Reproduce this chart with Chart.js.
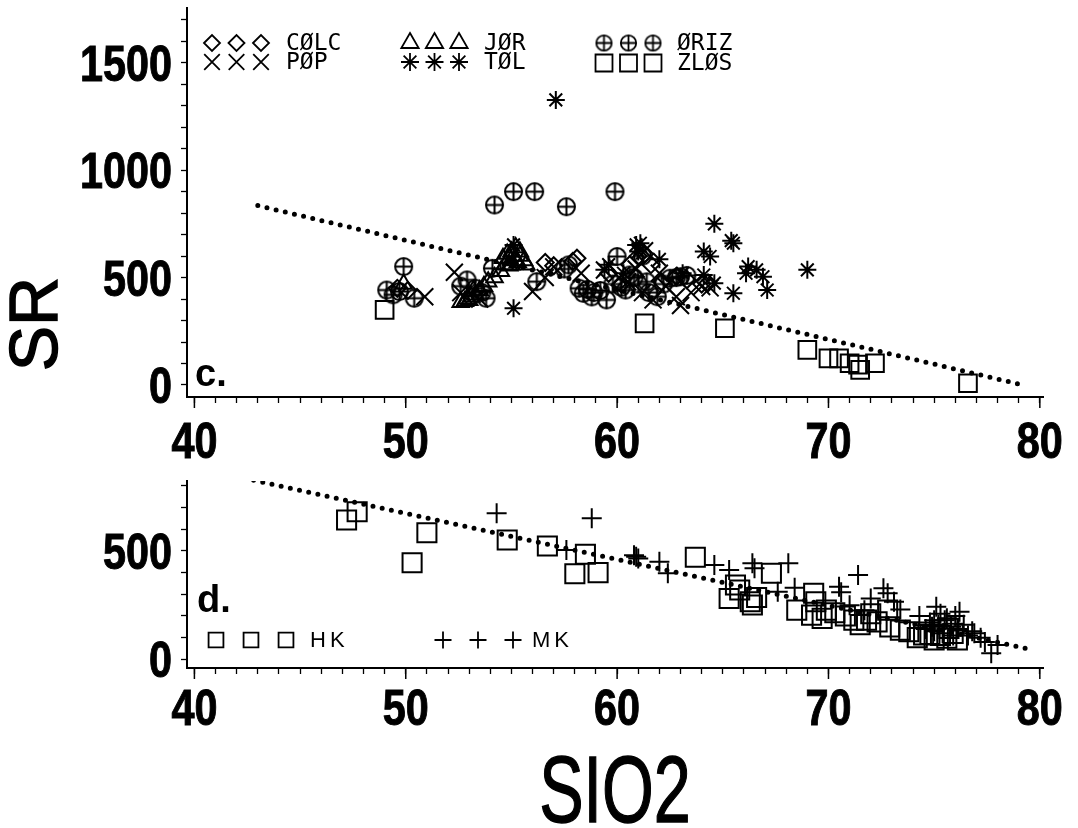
<!DOCTYPE html>
<html>
<head>
<meta charset="utf-8">
<script src="https://cdn.jsdelivr.net/npm/chart.js@4"></script>
<style>
  body { margin: 0; background: #fff; }
  #wrap { position: relative; width: 1078px; height: 828px; overflow: hidden; }
  canvas { position: absolute; left: 0; }
  #topChart { top: 0; }
  #botChart { top: 470px; }
  .big { position: absolute; color: #000; text-align: center; white-space: nowrap; -webkit-text-stroke: 1.4px #000; }
  #srLabel {
    left: -66px; top: 284px; width: 200px; height: 80px; line-height: 80px;
    font: 68px "Liberation Sans", Arial, sans-serif;
    transform: rotate(-90deg);
  }
  #sioLabel {
    left: 465px; top: 735px; width: 300px; height: 100px; line-height: 100px;
    font: 95px "Liberation Sans", Arial, sans-serif;
    transform: scaleX(0.7);
  }
</style>
</head>
<body>
<div id="wrap">
  <canvas id="topChart" width="1078" height="470"></canvas>
  <canvas id="botChart" width="1078" height="270"></canvas>
  <div class="big" id="srLabel">SR</div>
  <div class="big" id="sioLabel">SIO2</div>
</div>
<script>
// ---- panel c. (upper) ----
const colcSio2 = [49.6, 50.1, 56.6, 57.0, 57.9, 58.1, 59.6, 60.2, 60.6, 61.0, 61.3, 61.6, 62.1, 62.8, 63.3, 64.0, 64.3];
const colcSr = [450, 440, 570, 555, 575, 590, 520, 470, 560, 600, 610, 560, 480, 505, 490, 470, 475];

const jorSio2 = [49.9, 52.6, 52.8, 53.0, 52.9, 53.2, 53.1, 53.3, 53.5, 53.7, 53.9, 54.2, 54.5, 54.6, 54.7, 54.8, 54.9, 54.9, 55.0, 55.0, 55.1, 55.2, 55.2, 55.3, 55.4, 55.4, 55.6, 55.7];
const jorSr = [470, 385, 390, 395, 400, 440, 410, 420, 440, 460, 480, 500, 530, 590, 560, 610, 590, 555, 620, 560, 600, 640, 580, 570, 600, 620, 580, 560];

const orizSio2 = [49.1, 49.4, 49.7, 49.9, 50.4, 52.6, 52.9, 53.3, 53.6, 53.8, 54.1, 54.2, 55.1, 56.1, 56.2, 57.5, 57.6, 57.7, 58.2, 58.4, 58.6, 58.8, 58.9, 59.2, 59.5, 59.8, 59.9, 60.0, 60.2, 60.4, 60.6, 60.8, 61.0, 61.2, 61.4, 61.5, 61.9, 62.2, 62.5, 62.8, 63.0, 63.3];
const orizSr = [442, 420, 435, 551, 404, 460, 489, 450, 430, 404, 543, 838, 900, 900, 481, 540, 830, 559, 450, 427, 445, 410, 430, 440, 396, 470, 900, 598, 455, 442, 512, 500, 470, 600, 480, 430, 411, 470, 497, 500, 504, 510];

const popSio2 = [50.9, 52.3, 52.6, 53.5, 56.0, 56.6, 57.0, 58.3, 59.4, 60.1, 60.5, 60.9, 61.2, 61.3, 61.7, 62.0, 62.3, 62.8, 63.0, 63.5, 64.0, 64.4];
const popSr = [411, 525, 430, 400, 435, 500, 550, 520, 535, 500, 480, 540, 430, 625, 396, 520, 460, 411, 370, 430, 458, 452];

const tolSio2 = [55.1, 55.1, 57.1, 59.4, 59.6, 60.3, 60.9, 61.1, 61.0, 62.0, 63.1, 64.1, 64.4, 64.6, 64.1, 64.6, 65.4, 65.5, 65.5, 66.1, 66.2, 66.6, 66.9, 67.1, 69.0];
const tolSr = [652, 357, 1327, 536, 560, 520, 652, 660, 621, 585, 520, 621, 598, 750, 512, 474, 672, 660, 427, 520, 551, 536, 504, 442, 536];

const zlosSio2 = [49.0, 61.3, 65.1, 69.0, 70.0, 70.5, 71.0, 71.4, 71.5, 72.2, 76.6];
const zlosSr = [350, 287, 264, 163, 124, 124, 101, 95, 70, 101, 8];

const fitTopSio2 = [43.0, 79.2];
const fitTopSr = [835, 0];

// ---- panel d. (lower) ----
const hkSio2 = [47.2, 47.7, 50.3, 51.0, 54.8, 56.7, 58.0, 58.5, 59.1, 63.7, 65.3, 65.6, 65.8, 66.3, 66.4, 66.6, 67.3, 68.5, 69.2, 69.3, 69.4, 69.7, 69.9, 70.3, 70.8, 71.2, 71.5, 71.8, 72.0, 72.3, 72.8, 72.9, 73.4, 73.8, 74.2, 74.5, 74.8, 75.0, 75.3, 75.6, 75.7, 75.9, 76.1];
const hkSr = [643, 681, 446, 584, 551, 523, 395, 485, 400, 471, 281, 343, 320, 266, 251, 285, 397, 227, 204, 305, 266, 189, 227, 215, 200, 181, 160, 181, 210, 173, 227, 150, 135, 127, 100, 112, 115, 89, 110, 97, 143, 120, 89];

const mkSio2 = [54.3, 57.6, 58.8, 60.8, 60.9, 61.0, 62.0, 62.4, 64.6, 65.3, 66.4, 66.5, 67.6, 68.1, 68.4, 70.5, 70.6, 71.0, 71.4, 71.7, 72.0, 72.6, 72.8, 73.1, 73.4, 74.3, 74.6, 74.8, 74.9, 75.0, 75.0, 75.1, 75.2, 75.3, 75.4, 75.5, 75.6, 75.8, 75.9, 76.0, 76.1, 76.2, 76.4, 76.6, 76.8, 76.9, 77.2, 77.4, 77.7, 78.0];
const mkSr = [674, 504, 651, 480, 473, 465, 450, 397, 435, 412, 443, 420, 312, 443, 330, 335, 310, 250, 389, 227, 281, 328, 305, 266, 230, 200, 140, 170, 150, 130, 180, 243, 160, 210, 120, 180, 190, 150, 110, 200, 140, 220, 160, 110, 130, 120, 100, 80, 28, 66];

const fitBotSio2 = [42.8, 79.7];
const fitBotSr = [827, 43];

const xTickLabels = [40, 50, 60, 70, 80];
const yTopTickLabels = [0, 500, 1000, 1500];
const yBotTickLabels = [0, 500];

const tickFontStr = 'bold 50px "Liberation Sans", Arial, sans-serif';
const digitW = 23; // squeeze the digits, the original type is condensed

function pts(xs, ys) {
  return xs.map((x, i) => ({ x: x, y: ys[i] }));
}

// crossed circle marker (no builtin for it)
function crossCircle(d, lw) {
  const c = document.createElement("canvas");
  c.width = d;
  c.height = d;
  const g = c.getContext("2d");
  const r = d / 2 - lw;
  g.strokeStyle = "#000";
  g.lineWidth = lw;
  g.beginPath();
  g.arc(d / 2, d / 2, r, 0, Math.PI * 2);
  g.moveTo(d / 2 - r, d / 2);
  g.lineTo(d / 2 + r, d / 2);
  g.moveTo(d / 2, d / 2 - r);
  g.lineTo(d / 2, d / 2 + r);
  g.stroke();
  return c;
}
const orizMark = crossCircle(21, 2);
const orizLegendMark = crossCircle(19, 1.8);

function markSet(label, data, style, radius) {
  return {
    label: label,
    data: data,
    pointStyle: style,
    pointRadius: radius,
    pointBorderWidth: 2,
    pointBorderColor: "#000",
    pointBackgroundColor: "rgba(0,0,0,0)",
    showLine: false,
  };
}

function fitSet(data) {
  return {
    type: "line",
    data: data,
    borderColor: "#000",
    borderWidth: 5,
    borderDash: [0, 9.4],
    borderCapStyle: "round",
    pointRadius: 0,
    showLine: true,
    fill: false,
  };
}

// legend drawn with the library's own point renderer
function legendPlugin(id, items, fontStr, spacing) {
  return {
    id: id,
    afterDatasetsDraw(chart) {
      const ctx = chart.ctx;
      const area = chart.chartArea;
      ctx.save();
      ctx.strokeStyle = "#000";
      items.forEach((it) => {
        const y = area.top + it.dy;
        for (let k = 0; k < 3; k++) {
          const x = area.left + it.dx + k * it.step;
          ctx.fillStyle = "rgba(0,0,0,0)";
          ctx.lineWidth = 1.8;
          Chart.helpers.drawPoint(ctx, { pointStyle: it.style, radius: it.r, borderWidth: 1.8, rotation: 0 }, x, y);
        }
        ctx.fillStyle = "#000";
        ctx.font = fontStr;
        if ("letterSpacing" in ctx) ctx.letterSpacing = spacing;
        ctx.textBaseline = "middle";
        ctx.textAlign = "left";
        ctx.fillText(it.text, area.left + it.dx + 2 * it.step + it.gap, y + 1);
      });
      ctx.restore();
    },
  };
}

function panelLetter(id, text, dx, dyFromBottom) {
  return {
    id: id,
    afterDraw(chart) {
      const ctx = chart.ctx;
      const area = chart.chartArea;
      ctx.save();
      ctx.fillStyle = "#000";
      ctx.font = 'bold 38px "Liberation Sans", Arial, sans-serif';
      ctx.textBaseline = "alphabetic";
      ctx.textAlign = "left";
      ctx.fillText(text, area.left + dx, area.bottom - dyFromBottom);
      ctx.restore();
    },
  };
}

// tick labels placed from the scales, squeezed to the condensed width
function tickLabels(id, yLabels, xBaseOffset) {
  return {
    id: id,
    afterDraw(chart) {
      const ctx = chart.ctx;
      const xs = chart.scales.x;
      const ys = chart.scales.y;
      ctx.save();
      ctx.fillStyle = "#000";
      ctx.strokeStyle = "#000";
      ctx.lineWidth = 1;
      ctx.font = tickFontStr;
      ctx.textBaseline = "alphabetic";
      ctx.textAlign = "right";
      yLabels.forEach((v) => {
        const t = String(v);
        const w = t.length * digitW;
        ctx.fillText(t, ys.right - 15, ys.getPixelForValue(v) + 18, w);
        ctx.strokeText(t, ys.right - 15, ys.getPixelForValue(v) + 18, w);
      });
      ctx.textAlign = "center";
      xTickLabels.forEach((v) => {
        const t = String(v);
        const w = t.length * digitW;
        ctx.fillText(t, xs.getPixelForValue(v), xs.top + xBaseOffset, w);
        ctx.strokeText(t, xs.getPixelForValue(v), xs.top + xBaseOffset, w);
      });
      // longer marks at the labelled x ticks
      ctx.lineWidth = 1.5;
      xTickLabels.forEach((v) => {
        const px = xs.getPixelForValue(v);
        ctx.beginPath();
        ctx.moveTo(px, xs.top);
        ctx.lineTo(px, xs.top + 11);
        ctx.stroke();
      });
      ctx.restore();
    },
  };
}

function scalesFor(yMin, yMax, xAxisHeight) {
  return {
    x: {
      type: "linear",
      min: 39.65,
      max: 80.15,
      afterFit(scale) {
        scale.height = xAxisHeight;
        scale.paddingLeft = 0;
        scale.paddingRight = 0;
      },
      border: { color: "#000", width: 2 },
      grid: { drawOnChartArea: false, drawTicks: true, tickLength: 6, color: "#000", tickWidth: 1.3 },
      ticks: { stepSize: 1, includeBounds: false, autoSkip: false, display: false },
    },
    y: {
      type: "linear",
      min: yMin,
      max: yMax,
      afterFit(scale) {
        scale.width = 187;
        scale.paddingTop = 0;
        scale.paddingBottom = 0;
      },
      border: { color: "#000", width: 2 },
      grid: { drawOnChartArea: false, drawTicks: true, tickLength: 6, color: "#000", tickWidth: 1.3 },
      ticks: { stepSize: 100, includeBounds: false, autoSkip: false, display: false },
    },
  };
}

const baseOpts = {
  responsive: false,
  animation: false,
  devicePixelRatio: 1,
  plugins: { legend: { display: false }, tooltip: { enabled: false } },
};

new Chart(document.getElementById("topChart"), {
  type: "scatter",
  data: {
    datasets: [
      fitSet(pts(fitTopSio2, fitTopSr)),
      markSet("CØLC", pts(colcSio2, colcSr), "rectRot", 8.5),
      markSet("JØR", pts(jorSio2, jorSr), "triangle", 9.5),
      markSet("ØRIZ", pts(orizSio2, orizSr), orizMark, 10),
      markSet("PØP", pts(popSio2, popSr), "crossRot", 12),
      markSet("TØL", pts(tolSio2, tolSr), "star", 9),
      markSet("ZLØS", pts(zlosSio2, zlosSr), "rect", 12.5),
    ],
  },
  options: Object.assign({}, baseOpts, {
    layout: { autoPadding: false, padding: { top: 8, right: 35, left: 0, bottom: 0 } },
    scales: scalesFor(-56, 1755, 73),
  }),
  plugins: [
    tickLabels("ticksTop", yTopTickLabels, 61),
    panelLetter("letterC", "c.", 8, 11),
    legendPlugin("legendTop", [
      { text: "CØLC", style: "rectRot", r: 8, dx: 25, dy: 35, step: 24.5, gap: 25 },
      { text: "PØP", style: "crossRot", r: 11, dx: 25, dy: 54, step: 24.5, gap: 25 },
      { text: "JØR", style: "triangle", r: 10, dx: 223, dy: 35, step: 24.5, gap: 25 },
      { text: "TØL", style: "star", r: 9, dx: 223, dy: 54, step: 24.5, gap: 25 },
      { text: "ØRIZ", style: orizLegendMark, r: 9, dx: 417, dy: 35, step: 24.5, gap: 24 },
      { text: "ZLØS", style: "rect", r: 12, dx: 417, dy: 55, step: 24.5, gap: 24 },
    ], '23px "DejaVu Sans Mono", monospace', "0px"),
  ],
});

new Chart(document.getElementById("botChart"), {
  type: "scatter",
  data: {
    datasets: [
      fitSet(pts(fitBotSio2, fitBotSr)),
      markSet("HK", pts(hkSio2, hkSr), "rect", 13.5),
      markSet("MK", pts(mkSio2, mkSr), "cross", 10),
    ],
  },
  options: Object.assign({}, baseOpts, {
    layout: { autoPadding: false, padding: { top: 11, right: 35, left: 0, bottom: 0 } },
    scales: scalesFor(-40, 823, 72),
  }),
  plugins: [
    tickLabels("ticksBot", yBotTickLabels, 57),
    panelLetter("letterD", "d.", 10, 56),
    legendPlugin("legendBot", [
      { text: "HK", style: "rect", r: 10.5, dx: 29, dy: 159, step: 35, gap: 24 },
      { text: "MK", style: "cross", r: 8.5, dx: 256, dy: 159, step: 35, gap: 19 },
    ], '22px "Liberation Sans", Arial, sans-serif', "4px"),
  ],
});
</script>
</body>
</html>
